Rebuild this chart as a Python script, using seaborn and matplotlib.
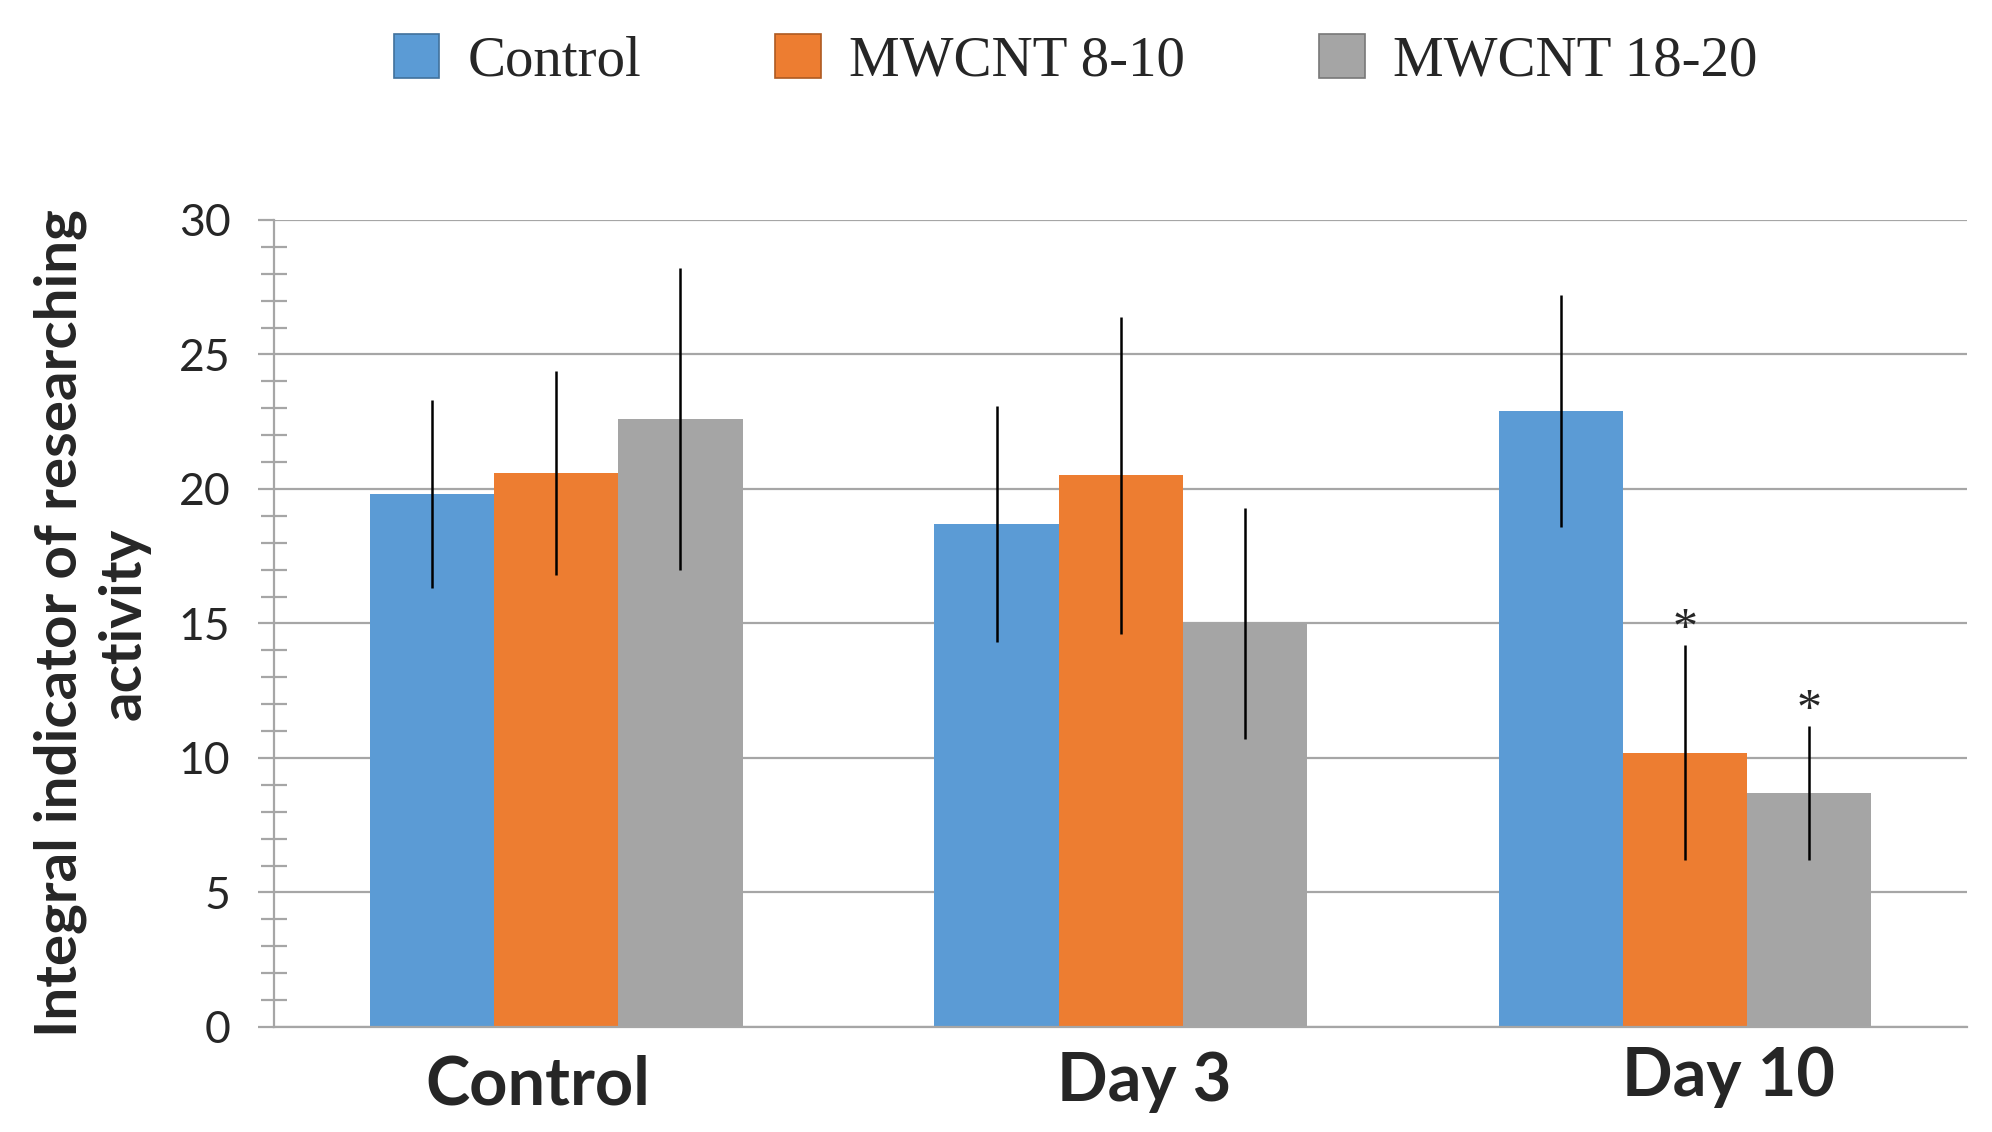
import numpy as np
import pandas as pd
import matplotlib
matplotlib.use("Agg")
import matplotlib.pyplot as plt
import matplotlib.transforms as mtransforms
from matplotlib.patches import Patch
from matplotlib.ticker import MultipleLocator
import seaborn as sns

groups = ["Control", "Day 3", "Day 10"]
series = ["Control", "MWCNT 8-10", "MWCNT 18-20"]
means = {
    "Control": [19.8, 18.7, 22.9],
    "MWCNT 8-10": [20.6, 20.5, 10.2],
    "MWCNT 18-20": [22.6, 15.0, 8.7],
}
errors = {
    "Control": [3.5, 4.4, 4.3],
    "MWCNT 8-10": [3.8, 5.9, 4.0],
    "MWCNT 18-20": [5.6, 4.3, 2.5],
}
significant = {"MWCNT 8-10": [False, False, True], "MWCNT 18-20": [False, False, True]}
colors = ["#5B9BD5", "#ED7D31", "#A5A5A5"]
edge_colors = ["#41719C", "#AE5A21", "#787878"]
ylabel = "Integral indicator of researching\nactivity"

rows = []
for s in series:
    for g, m in zip(groups, means[s]):
        rows.append({"group": g, "series": s, "value": m})
df = pd.DataFrame(rows)

sns.set_style("white")
plt.rcParams["font.family"] = ["Lato", "DejaVu Sans"]

fig = plt.figure(figsize=(19.92, 11.32), dpi=100)
ax = fig.add_axes([0.1376, 0.0928, 0.850, 0.7129])

sns.barplot(data=df, x="group", y="value", hue="series", order=groups,
            hue_order=series, palette=colors, width=0.66, errorbar=None,
            saturation=1, legend=False, ax=ax, zorder=2)

grid_color = "#A6A6A6"
for i, (s, cont) in enumerate(zip(series, ax.containers)):
    xs = [b.get_x() + b.get_width() / 2 for b in cont]
    hs = [b.get_height() for b in cont]
    for b in cont:
        b.set_linewidth(0)
    ax.errorbar(xs, hs, yerr=errors[s], fmt="none", ecolor="black",
                elinewidth=1.8, capsize=0, zorder=3)
    if s in significant:
        for x, h, e, flag in zip(xs, hs, errors[s], significant[s]):
            if flag:
                ax.text(x, h + e + 0.55, "*", ha="center", va="center",
                        fontsize=36, family="Liberation Serif", zorder=4)

ax.set_xlim(-0.5, 2.5)
ax.set_ylim(0, 30)
ax.yaxis.set_major_locator(MultipleLocator(5))
ax.yaxis.set_minor_locator(MultipleLocator(1))
ax.set_axisbelow(True)
ax.grid(axis="y", which="major", color=grid_color, linewidth=1.6)
ax.grid(axis="x", visible=False)

for side in ["top", "right"]:
    ax.spines[side].set_visible(False)
ax.spines["left"].set_color(grid_color)
ax.spines["left"].set_linewidth(1.6)
ax.spines["bottom"].set_color(grid_color)
ax.spines["bottom"].set_linewidth(1.6)

ax.tick_params(axis="y", which="major", direction="out", length=11.5, width=1.6,
               color=grid_color, labelsize=32, pad=20, left=True)
ax.tick_params(axis="y", which="minor", direction="inout", length=18.5, width=1.6,
               color=grid_color, left=True)
ax.tick_params(axis="x", length=0, pad=14)
ax.set_xticks(range(len(groups)))
ax.set_xticklabels(groups, fontsize=48, fontweight="bold")
offsets = [(-19, -8), (23, -5), (43, 0)]
for lab, (dx, dy) in zip(ax.get_xticklabels(), offsets):
    lab.set_transform(lab.get_transform() +
                      mtransforms.ScaledTranslation(dx / 100, dy / 100, fig.dpi_scale_trans))
ax.set_xlabel("")
ax.set_ylabel(ylabel, fontsize=42, fontweight="bold", labelpad=20, linespacing=1.25)

handles = [Patch(facecolor=c, edgecolor=ec, linewidth=1.2) for c, ec in zip(colors, edge_colors)]
fig.legend(handles, series, loc="center", bbox_to_anchor=(0.54, 0.946), ncol=3,
           frameon=False, prop={"family": "Liberation Serif", "size": 41},
           handlelength=0.8, handleheight=0.8, handletextpad=0.5, columnspacing=2.35)

fig.savefig("out.png", dpi=100)
